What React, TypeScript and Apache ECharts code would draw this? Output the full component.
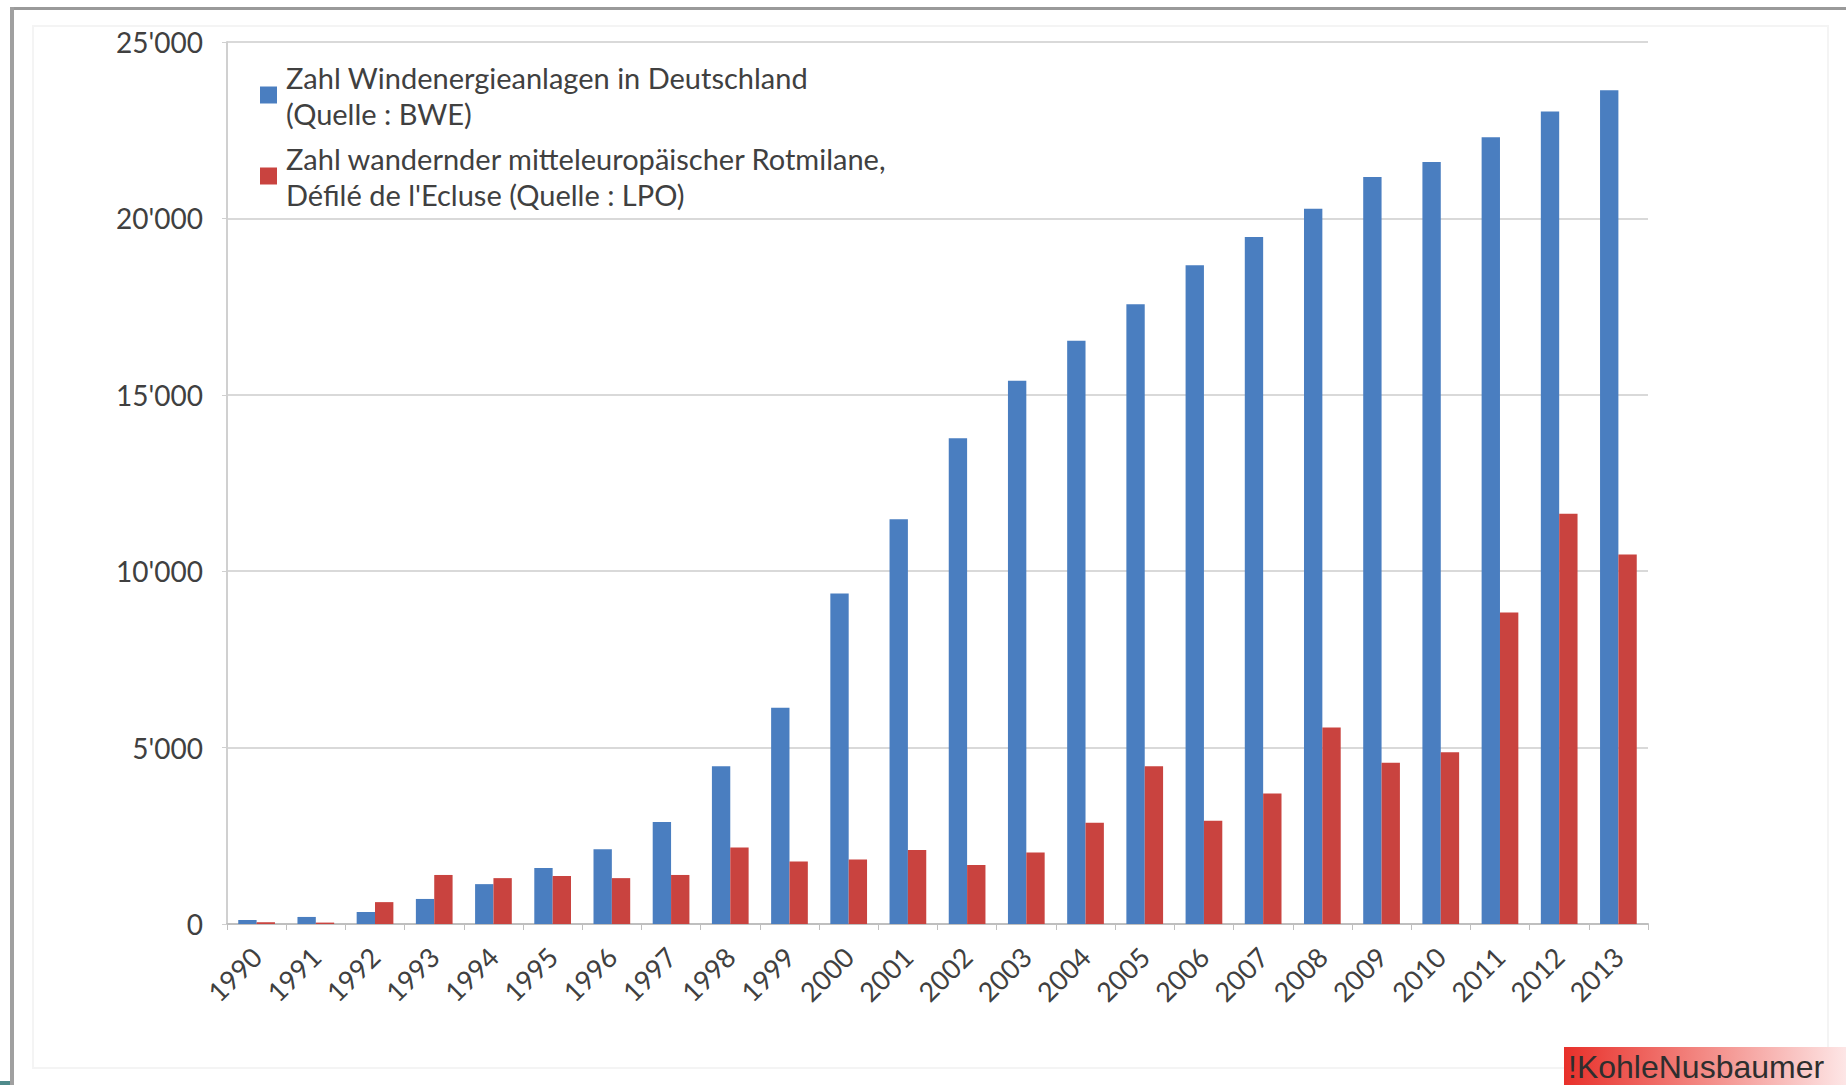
import React, { useEffect, useRef } from "react";
import * as echarts from "echarts";

const years = [
  "1990", "1991", "1992", "1993", "1994", "1995", "1996", "1997", "1998", "1999", "2000", "2001",
  "2002", "2003", "2004", "2005", "2006", "2007", "2008", "2009", "2010", "2011", "2012", "2013",
];
const windTurbines = [
  110, 200, 340, 710, 1130, 1590, 2120, 2890, 4470, 6130, 9370, 11470,
  13770, 15400, 16530, 17570, 18670, 19470, 20270, 21170, 21600, 22300, 23030, 23630,
];
const redKites = [
  50, 40, 620, 1390, 1300, 1360, 1300, 1390, 2170, 1770, 1830, 2100,
  1670, 2030, 2870, 4470, 2930, 3700, 5570, 4570, 4870, 8830, 11630, 10470,
];
const seriesNames = [
  "Zahl Windenergieanlagen in Deutschland\n(Quelle : BWE)",
  "Zahl wandernder mitteleuropäischer Rotmilane,\nDéfilé de l'Ecluse (Quelle : LPO)",
];
const yTicks = [0, 5000, 10000, 15000, 20000, 25000];
const logoText = "!KohleNusbaumer";

const FONT = "Lato, 'Open Sans', sans-serif";

function fmt(v: number): string {
  return String(v).replace(/\B(?=(\d{3})+(?!\d))/g, "'");
}

export default function App() {
  const ref = useRef<HTMLDivElement>(null);
  useEffect(() => {
    if (!ref.current) return;
    const chart = echarts.init(ref.current, null, { renderer: "svg" });
    chart.setOption({
      animation: false,
      backgroundColor: "#ffffff",
      textStyle: { fontFamily: FONT },
      grid: { left: 227, right: 198, top: 42, bottom: 161, containLabel: false },
      legend: {
        orient: "vertical",
        left: 255,
        top: 36,
        itemWidth: 17,
        itemHeight: 17,
        itemGap: -27,
        icon: "rect",
        selectedMode: false,
        textStyle: {
          fontFamily: FONT,
          fontSize: 29,
          lineHeight: 36,
          color: "#404040",
          padding: [36, 0, 0, 4],
        },
        data: seriesNames,
      },
      xAxis: {
        type: "category",
        data: years,
        axisLine: { lineStyle: { color: "#bfbfbf", width: 2 } },
        axisTick: { show: true, length: 6, lineStyle: { color: "#bfbfbf" } },
        axisLabel: {
          rotate: 45,
          margin: 28,
          fontSize: 27,
          fontFamily: FONT,
          color: "#404040",
        },
      },
      yAxis: {
        type: "value",
        min: yTicks[0],
        max: yTicks[yTicks.length - 1],
        interval: yTicks[1] - yTicks[0],
        axisLine: { show: true, lineStyle: { color: "#d0d0d0", width: 2 } },
        axisTick: { show: true, length: 5, lineStyle: { color: "#d0d0d0" } },
        splitLine: { lineStyle: { color: "#d9d9d9", width: 2 } },
        axisLabel: {
          margin: 24,
          fontSize: 28,
          fontFamily: FONT,
          color: "#404040",
          formatter: (v: number) => fmt(v),
        },
      },
      series: [
        {
          name: seriesNames[0],
          type: "bar",
          data: windTurbines,
          barGap: "0%",
          barCategoryGap: "38%",
          itemStyle: { color: "#4a7ec0" },
        },
        {
          name: seriesNames[1],
          type: "bar",
          data: redKites,
          barGap: "0%",
          barCategoryGap: "38%",
          itemStyle: { color: "#c9433f" },
        },
      ],
      graphic: [
        {
          type: "rect",
          shape: { x: 33, y: 26, width: 1795, height: 1042 },
          style: { fill: "none", stroke: "#f4f4f4", lineWidth: 2 },
          silent: true,
        },
        {
          type: "rect",
          shape: { x: 10, y: 7, width: 1836, height: 3 },
          style: { fill: "#9a9a9a" },
          silent: true,
        },
        {
          type: "rect",
          shape: { x: 10, y: 7, width: 4, height: 1078 },
          style: { fill: "#a0a0a0" },
          silent: true,
        },
        {
          type: "rect",
          shape: { x: 0, y: 1081, width: 10, height: 4 },
          style: { fill: "#4f8a8b" },
          silent: true,
        },
        {
          type: "rect",
          shape: { x: 1564, y: 1047, width: 282, height: 38 },
          style: {
            fill: new echarts.graphic.LinearGradient(0, 0, 1, 0, [
              { offset: 0, color: "#e8302a" },
              { offset: 0.5, color: "#f38a85" },
              { offset: 1, color: "#fde6e6" },
            ]),
          },
          silent: true,
        },
        {
          type: "text",
          x: 1568,
          y: 1067,
          style: {
            text: logoText,
            fontFamily: "'Liberation Sans', Arial, sans-serif",
            fontSize: 32,
            fill: "#2e2e2e",
            verticalAlign: "middle",
            align: "left",
          },
          silent: true,
        },
      ],
    });
    return () => chart.dispose();
  }, []);
  return (
    <div
      ref={ref}
      style={{ position: "fixed", left: 0, top: 0, width: 1846, height: 1085 }}
    />
  );
}
